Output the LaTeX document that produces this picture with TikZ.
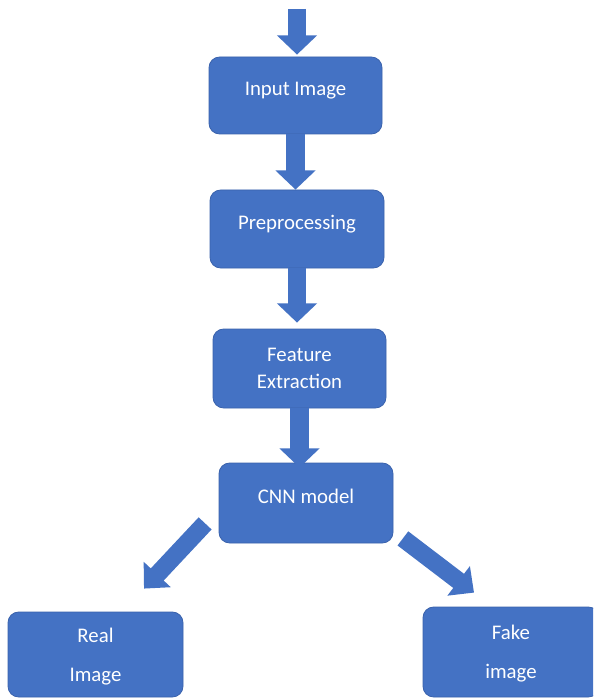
\documentclass[tikz,border=0pt]{standalone}
\usepackage{fontspec}
\setmainfont{Carlito}
\usepackage{tikz}
\usetikzlibrary{positioning, arrows.meta, calc}
\definecolor{boxblue}{HTML}{4472C4}
\definecolor{edgeblue}{HTML}{3A62AC}

\tikzset{
  flowbox/.style={draw=edgeblue, line width=0.6pt, fill=boxblue, rounded corners=8pt,
    text=white, font=\fontsize{15.6}{20}\selectfont, align=center, inner sep=0pt},
  oneline/.style={text height=10pt, text depth=10pt},
  twoline/.style={text depth=0pt},
  fatarrow/.style={draw=boxblue, line width=14pt, -{Triangle[width=29.5pt, length=14.5pt]}},
  slantarrow/.style={draw=boxblue, line width=13.3pt, -{Triangle[width=27pt, length=14.5pt]}}
}

\begin{document}
\begin{tikzpicture}[x=0.75pt, y=-0.75pt]
% pixel grid of the 593 x 698 sketch, y running down
\clip (0,0) rectangle (593,698);
\fill[white] (0,0) rectangle (593,698);
\node[flowbox, oneline, minimum width=129.75pt, minimum height=57.75pt] (inp) at (295.5,95.5) {Input Image};
\node[flowbox, oneline, minimum width=130.5pt, minimum height=58.5pt] (pre) at (297,229) {Preprocessing};
\node[flowbox, twoline, minimum width=129.75pt, minimum height=59.25pt] (fea) at (299.5,368.5) {Feature\\Extraction};
\node[flowbox, oneline, minimum width=130.5pt, minimum height=60pt] (cnn) at (306,503) {CNN model};
\node[flowbox, twoline, minimum width=131.25pt, minimum height=63.75pt] (real) at (95.5,654.5) {Real\\[9pt]Image};
\node[flowbox, twoline, minimum width=132pt, minimum height=67.5pt] (fake) at (511,652) {Fake\\[9pt]image};
\coordinate (start) at (297,9);
\draw[fatarrow] (start) -- ($(start |- inp.north)+(0,-2)$);
\draw[fatarrow] (inp.south) -- (inp.south |- pre.north);
\draw[fatarrow] (pre.south) -- ($(pre.south |- fea.north)+(0,-6)$);
\draw[fatarrow] (fea.south) -- ($(fea.south |- cnn.north)+(0,5)$);
\draw[slantarrow] ($(cnn.south west)+(-13.5,-20)$) -- ($(real.north)+(48.5,-23)$);
\draw[slantarrow] ($(cnn.south east)+(9.5,-5)$) -- ($(fake.north)+(-37,-14)$);
\end{tikzpicture}
\end{document}
